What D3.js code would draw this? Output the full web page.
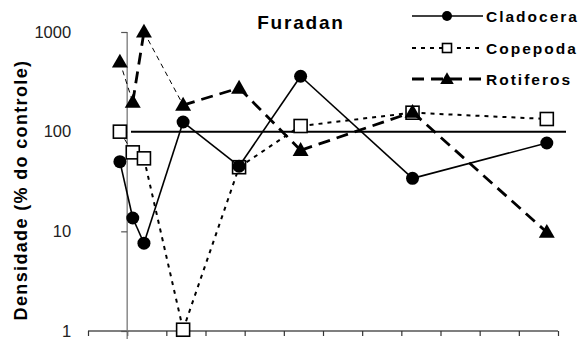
<!DOCTYPE html>
<html><head><meta charset="utf-8">
<script src="https://cdn.jsdelivr.net/npm/d3@7"></script>
<style>
html,body{margin:0;padding:0;background:#fff;}
svg{display:block;font-family:Arial,"Liberation Sans",sans-serif;}
</style></head><body>
<svg id="c" width="581" height="339"></svg>
<script>
const days = [-1.3, 1, 3, 10, 20, 31, 51, 75];
const cladocera = [50, 13.6, 7.6, 125, 45, 360, 34, 77];
const copepoda = [100, 62, 54, 1.03, 44, 114, 155, 134];
const rotiferos = [500, 198, 1000, 185, 274, 65, 157, 9.8];
const yTicks = [1, 10, 100, 1000];
const xTicks = d3.range(-7, 78, 7);
const title = "Furadan";
const yLabel = "Densidade (% do controle)";
const seriesNames = ["Cladocera", "Copepoda", "Rotiferos"];

const svg = d3.select("#c");
const x = d3.scaleLinear().domain([-7, 77]).range([88, 558]);
const y = d3.scaleLog().domain([1, 1000]).range([331, 32]);

// x axis
const xa = svg.append("g").attr("transform", "translate(0,331)")
  .call(d3.axisBottom(x).tickValues(xTicks).tickSize(5).tickFormat(""));
xa.select(".domain").attr("d", `M${x(-7)},0H${x(77)}`).attr("stroke", "#000").attr("stroke-width", 1.2);
xa.selectAll(".tick line").attr("stroke", "#333").attr("stroke-width", 1.2);

// y axis
const ya = svg.append("g").attr("transform", `translate(${x(0)},0)`)
  .call(d3.axisLeft(y).tickValues(yTicks).tickSize(6).tickFormat(d3.format("d")));
ya.select(".domain").attr("d", `M0,${y(1000)}V339`).attr("stroke", "#777").attr("stroke-width", 1.3);
ya.selectAll(".tick line").attr("stroke", "#555").attr("stroke-width", 1.2);
ya.selectAll(".tick text").attr("x", -56).attr("text-anchor", "end")
  .attr("font-size", 16.5).attr("fill", "#222").attr("font-family", "Arial, 'Liberation Sans', sans-serif");

// reference line at 100
svg.append("line").attr("x1", 131).attr("x2", 566).attr("y1", y(100)).attr("y2", y(100))
  .attr("stroke", "#000").attr("stroke-width", 2);

// title
svg.append("text").attr("x", 301).attr("y", 29).attr("text-anchor", "middle")
  .attr("font-weight", "bold").attr("font-size", 19).attr("letter-spacing", 1.8).text(title);

// y label
svg.append("text").attr("transform", "translate(27,190) rotate(-90)").attr("text-anchor", "middle")
  .attr("font-weight", "bold").attr("font-size", 18).attr("letter-spacing", 1.35).text(yLabel);

const tri = d3.symbol().type(d3.symbolTriangle);

// draw each series segment by segment; a few early segments are thinner in the original
function drawSeries(vals, style, thin) {
  const pts = vals.map((v, i) => [x(days[i]), y(v)]);
  const segs = d3.pairs(pts);
  svg.append("g").selectAll("path").data(segs).join("path")
    .attr("d", d => d3.line()(d)).attr("fill", "none").attr("stroke", "#000")
    .attr("stroke-width", (d, i) => thin.includes(i) ? 1 : style.w)
    .attr("stroke-dasharray", (d, i) => thin.includes(i) && style.dash ? "5,4" : style.dash);
}
function marker(g, kind, cx, cy, s) {
  if (kind === "circle") g.append("circle").attr("cx", cx).attr("cy", cy).attr("r", s).attr("fill", "#000");
  else if (kind === "square") g.append("rect").attr("x", cx - s).attr("y", cy - s).attr("width", 2 * s).attr("height", 2 * s)
    .attr("fill", "#fff").attr("stroke", "#000").attr("stroke-width", 1.6);
  else g.append("path").attr("d", tri.size(s)()).attr("transform", `translate(${cx},${cy + 1})`).attr("fill", "#000");
}

drawSeries(copepoda, {w: 2, dash: "4,5"}, [0, 1]);
copepoda.forEach((v, i) => marker(svg, "square", x(days[i]), y(v), 6.5));
drawSeries(cladocera, {w: 1.6, dash: null}, []);
cladocera.forEach((v, i) => marker(svg, "circle", x(days[i]), y(v), 6.5));
drawSeries(rotiferos, {w: 2.8, dash: "12,7"}, [0, 2]);
rotiferos.forEach((v, i) => marker(svg, "triangle", x(days[i]), y(v), 110));

// legend
const leg = svg.append("g");
const legY = [16, 48, 79];
const legStyles = [{w: 1.6, dash: null, m: "circle", s: 5}, {w: 2, dash: "4,5", m: "square", s: 4.5}, {w: 2.8, dash: "12,7", m: "triangle", s: 80}];
seriesNames.forEach((n, i) => {
  const st = legStyles[i];
  leg.append("line").attr("x1", 412).attr("x2", 483).attr("y1", legY[i]).attr("y2", legY[i])
    .attr("stroke", "#000").attr("stroke-width", st.w).attr("stroke-dasharray", st.dash);
  marker(leg, st.m, 447, legY[i], st.s);
  leg.append("text").attr("x", 486).attr("y", legY[i] + 5.5).attr("font-weight", "bold")
    .attr("font-size", 15.5).attr("letter-spacing", 2).text(n);
});
</script>
</body></html>
